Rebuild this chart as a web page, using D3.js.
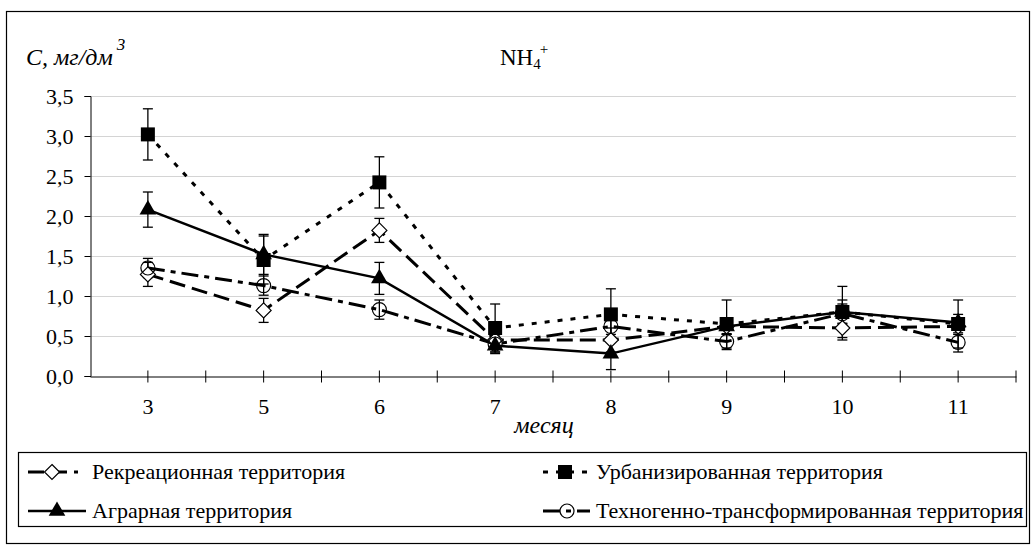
<!DOCTYPE html>
<html>
<head>
<meta charset="utf-8">
<script src="https://cdn.jsdelivr.net/npm/d3@7"></script>
<style>
  html, body { margin: 0; padding: 0; background: #fff; }
  svg text { font-family: "Liberation Serif", "Times New Roman", Times, serif; }
</style>
</head>
<body>
<div id="nh4-chart"></div>
<script>
// months on the x axis
const months = ["3", "5", "6", "7", "8", "9", "10", "11"];
const yTicks = [0, 0.5, 1.0, 1.5, 2.0, 2.5, 3.0, 3.5];

const seriesNames = [
    "Рекреационная территория",
    "Урбанизированная территория",
    "Аграрная территория",
    "Техногенно-трансформированная территория"
];

// concentrations, mg/dm3
const recreational = [1.27, 0.82, 1.82, 0.45, 0.45, 0.62, 0.60, 0.62];
const recreationalErr = [0.15, 0.15, 0.15, 0.10, 0.15, 0.10, 0.15, 0.10];
const urban = [3.02, 1.45, 2.42, 0.60, 0.77, 0.65, 0.80, 0.65];
const urbanErr = [0.32, 0.30, 0.32, 0.30, 0.32, 0.30, 0.32, 0.30];
const agrarian = [2.08, 1.52, 1.22, 0.38, 0.28, 0.62, 0.80, 0.67];
const agrarianErr = [0.22, 0.25, 0.20, 0.10, 0.20, 0.10, 0.15, 0.10];
const technogenic = [1.35, 1.13, 0.83, 0.40, 0.62, 0.43, 0.78, 0.42];
const technogenicErr = [0.12, 0.12, 0.12, 0.10, 0.10, 0.10, 0.12, 0.12];

renderChart = (targetId) => {
    const width = 1032;
    const height = 545;
    const marginLeft = 90;
    const marginRight = 16;
    const marginTop = 96;
    const plotBottom = 376;

    const series = [
        { name: seriesNames[0], values: recreational, err: recreationalErr, dash: "16,7", width: 3, marker: "diamond" },
        { name: seriesNames[1], values: urban, err: urbanErr, dash: "5,8", width: 3, marker: "square" },
        { name: seriesNames[2], values: agrarian, err: agrarianErr, dash: null, width: 2.5, marker: "triangle" },
        { name: seriesNames[3], values: technogenic, err: technogenicErr, dash: "17,6,5,6", width: 3, marker: "circle" }
    ];

    const x = d3.scaleBand(months, [marginLeft, width - marginRight]).padding(0);
    const cx = m => x(m) + x.bandwidth() / 2;
    const y = d3.scaleLinear([0, 3.5], [plotBottom, marginTop]);

    const svg = d3.select(`div#${targetId}`)
        .append("svg")
        .attr("width", width)
        .attr("height", height)
        .attr("viewBox", [0, 0, width, height]);

    // outer frame
    svg.append("rect")
        .attr("x", 6.5).attr("y", 11.5)
        .attr("width", 1023).attr("height", 532)
        .attr("fill", "none").attr("stroke", "#000").attr("stroke-width", 1.2);

    // gridlines
    svg.append("g")
        .selectAll("line")
        .data(yTicks.filter(d => d > 0))
        .join("line")
        .attr("x1", marginLeft).attr("x2", width - marginRight)
        .attr("y1", d => Math.round(y(d)) + 0.5).attr("y2", d => Math.round(y(d)) + 0.5)
        .attr("stroke", "#d4d4d4");

    // y axis
    svg.append("g")
        .attr("transform", `translate(${marginLeft + 0.5},0)`)
        .call(d3.axisLeft(y).tickValues(yTicks).tickSize(6).tickPadding(11)
            .tickFormat(d => d.toFixed(1).replace(".", ",")))
        .call(g => g.select(".domain").attr("stroke", "#000"))
        .call(g => g.selectAll("text")
            .attr("font-size", 22)
            .attr("fill", "#000"));

    // x axis, ticks cross the line at centres and between categories
    const gx = svg.append("g")
        .attr("transform", `translate(0,${plotBottom + 0.5})`)
        .call(d3.axisBottom(x).tickSize(6).tickPadding(16).tickSizeOuter(0))
        .call(g => g.select(".domain").attr("stroke", "#000"))
        .call(g => g.selectAll(".tick line").attr("y1", -6).attr("y2", 6))
        .call(g => g.selectAll("text")
            .attr("font-size", 22)
            .attr("fill", "#000"));

    gx.selectAll("line.between")
        .data(months.slice(1).concat(["end"]))
        .join("line")
        .attr("class", "between")
        .attr("x1", d => d === "end" ? width - marginRight : x(d))
        .attr("x2", d => d === "end" ? width - marginRight : x(d))
        .attr("y1", -6).attr("y2", 6)
        .attr("stroke", "#000");

    // axis titles
    const yTitle = svg.append("text")
        .attr("x", 26).attr("y", 65)
        .attr("font-size", 24)
        .attr("font-style", "italic");
    yTitle.append("tspan").text("С, мг/дм");
    yTitle.append("tspan").attr("font-size", 17).attr("dx", 4).attr("dy", -15).text("3");

    svg.append("text")
        .attr("x", 544).attr("y", 433)
        .attr("text-anchor", "middle")
        .attr("font-size", 24)
        .attr("font-style", "italic")
        .text("месяц");

    const title = svg.append("text")
        .attr("x", 500).attr("y", 65)
        .attr("font-size", 23);
    title.append("tspan").text("NH");
    title.append("tspan").attr("font-size", 15).attr("dy", 4).text("4");
    title.append("tspan").attr("font-size", 15).attr("dy", -15).attr("dx", -1).text("+");

    // lines
    const line = d3.line()
        .x((d, i) => cx(months[i]))
        .y(d => y(d));

    const gLines = svg.append("g").attr("fill", "none").attr("stroke", "#000");
    series.forEach(s => {
        gLines.append("path")
            .attr("d", line(s.values))
            .attr("stroke-width", s.width)
            .attr("stroke-dasharray", s.dash);
    });

    // error bars
    const gErr = svg.append("g").attr("stroke", "#000").attr("stroke-width", 1.3);
    series.forEach(s => {
        s.values.forEach((v, i) => {
            const px = cx(months[i]);
            const lo = y(v - s.err[i]);
            const hi = y(v + s.err[i]);
            gErr.append("line").attr("x1", px).attr("x2", px).attr("y1", lo).attr("y2", hi);
            gErr.append("line").attr("x1", px - 5).attr("x2", px + 5).attr("y1", lo).attr("y2", lo);
            gErr.append("line").attr("x1", px - 5).attr("x2", px + 5).attr("y1", hi).attr("y2", hi);
        });
    });

    const drawMarker = (g, kind, px, py) => {
        if (kind === "square") {
            g.append("rect").attr("x", px - 7).attr("y", py - 7).attr("width", 14).attr("height", 14)
                .attr("fill", "#000");
        } else if (kind === "triangle") {
            g.append("path").attr("transform", `translate(${px},${py})`)
                .attr("d", d3.symbol(d3.symbolTriangle, 120)())
                .attr("fill", "#000");
        } else if (kind === "diamond") {
            g.append("path").attr("transform", `translate(${px},${py})`)
                .attr("d", "M0,-7.5L7.5,0L0,7.5L-7.5,0Z")
                .attr("fill", "#fff").attr("stroke", "#000").attr("stroke-width", 1.2);
        } else {
            g.append("circle").attr("cx", px).attr("cy", py).attr("r", 7)
                .attr("fill", "none").attr("stroke", "#000").attr("stroke-width", 1.2);
        }
    };

    const gMarks = svg.append("g");
    series.forEach(s => {
        s.values.forEach((v, i) => drawMarker(gMarks, s.marker, cx(months[i]), y(v)));
    });

    // legend
    const legend = svg.append("g");
    legend.append("rect")
        .attr("x", 18.5).attr("y", 452.5)
        .attr("width", 1008).attr("height", 74)
        .attr("fill", "#fff").attr("stroke", "#000").attr("stroke-width", 1.2);

    const slots = [
        { x0: 28, x1: 78, mx: 52, tx: 92, ty: 472 },
        { x0: 543, x1: 590, mx: 565, tx: 596, ty: 472 },
        { x0: 28, x1: 86, mx: 57, tx: 92, ty: 511 },
        { x0: 543, x1: 590, mx: 567, tx: 596, ty: 511 }
    ];
    series.forEach((s, i) => {
        const p = slots[i];
        legend.append("line")
            .attr("x1", p.x0).attr("x2", p.x1).attr("y1", p.ty).attr("y2", p.ty)
            .attr("stroke", "#000").attr("stroke-width", s.width)
            .attr("stroke-dasharray", s.dash);
        drawMarker(legend, s.marker, p.mx, p.ty);
        legend.append("text")
            .attr("x", p.tx).attr("y", p.ty)
            .attr("dy", "0.33em")
            .attr("font-size", 22)
            .text(s.name);
    });
}

renderChart("nh4-chart");
</script>
</body>
</html>
